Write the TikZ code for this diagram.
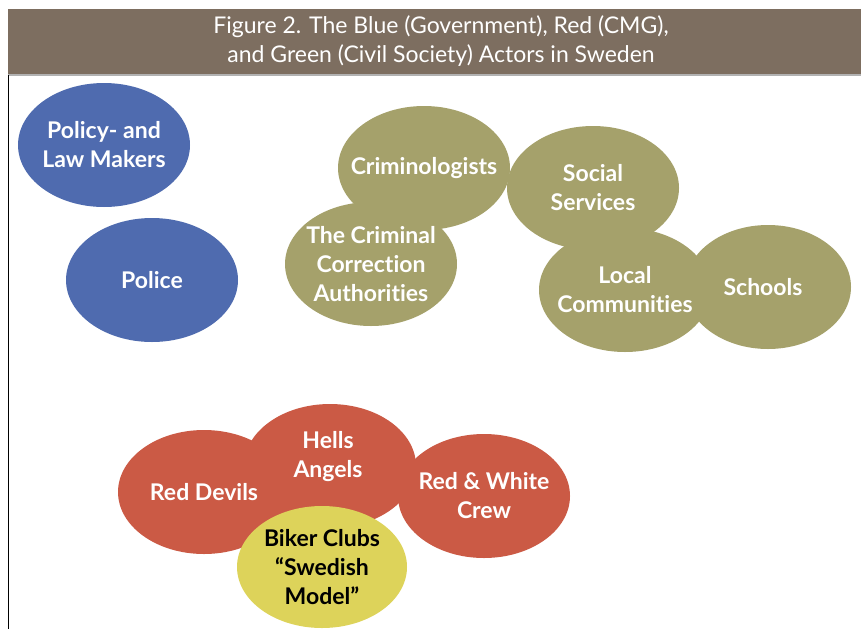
\documentclass[tikz,border=0pt]{standalone}
\usepackage{fontspec}
\setmainfont{Lato}[Ligatures=NoCommon]
\usetikzlibrary{shapes.geometric}
\definecolor{govblue}{RGB}{79,107,175}
\definecolor{civgreen}{RGB}{165,161,107}
\definecolor{cmgred}{RGB}{203,90,69}
\definecolor{bikeryellow}{RGB}{221,211,90}
\definecolor{headbrown}{RGB}{125,110,96}
\tikzset{
  blob/.style={ellipse, minimum width=172pt, minimum height=124pt, inner sep=0pt},
  actor/.style={align=center, text=white, font=\bfseries\fontsize{23}{29}\selectfont}
}
\begin{document}
\begin{tikzpicture}[x=1pt,y=-1pt]
\useasboundingbox (0,0) rectangle (861,629);
\fill [headbrown] (8,9) rectangle (861,75);
\draw [gray!60, line width=1.5pt] (8,75) -- (861,75);
\draw [black, line width=1pt] (8.5,75) -- (8.5,629);
\node (title) [text=white, align=center, font=\fontsize{23}{29}\selectfont] at (441,41) {Figure 2. The Blue (Government), Red (CMG),\\and Green (Civil Society) Actors in Sweden};

% blue
\node (policy) [blob, fill=govblue] at (104,145) {};
\node (police) [blob, fill=govblue] at (152,280) {};

% green
\node (crimin) [blob, fill=civgreen] at (424,168) {};
\node (social) [blob, fill=civgreen] at (593,188) {};
\node (correct) [blob, fill=civgreen] at (371,264) {};
\node (local) [blob, fill=civgreen] at (625,290) {};
\node (schools) [blob, fill=civgreen, minimum width=166pt] at (768,287) {};

% red
\node (devils) [blob, fill=cmgred] at (204,492) {};
\node (hells) [blob, fill=cmgred] at (330,466) {};
\node (crew) [blob, fill=cmgred] at (484,496) {};
\node (biker) [blob, fill=bikeryellow, minimum width=170pt, minimum height=122pt] at (322,567) {};

% labels on top
\node (policytext) [actor] at (policy) {Policy- and\\Law Makers};
\node (policetext) [actor] at (police) {Police};
\node (crimintext) [actor] at (crimin) {Criminologists};
\node (socialtext) [actor] at (social) {Social\\Services};
\node (correcttext) [actor] at (correct) {The Criminal\\Correction\\Authorities};
\node (localtext) [actor] at (local) {Local\\Communities};
\node (schoolstext) [actor] at ([xshift=-5pt]schools.center) {Schools};
\node (devilstext) [actor] at (devils) {Red Devils};
\node (hellstext) [actor] at ([shift={(-2,-9)}]hells.center) {Hells\\Angels};
\node (crewtext) [actor] at (crew) {Red \& White\\Crew};
\node (bikertext) [actor, text=black] at (biker) {Biker Clubs\\“Swedish\\Model”};
\end{tikzpicture}
\end{document}
